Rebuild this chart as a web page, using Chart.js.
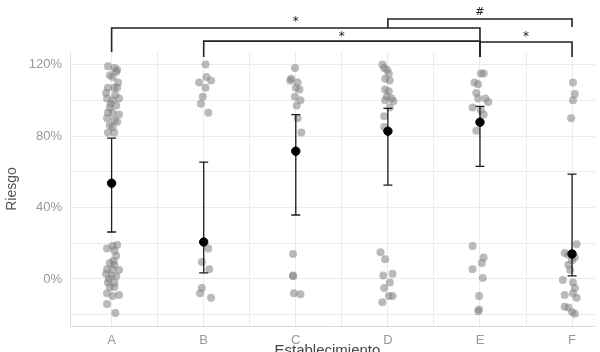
<!DOCTYPE html>
<html>
<head>
<meta charset="utf-8">
<script src="https://cdn.jsdelivr.net/npm/chart.js@4.4.1/dist/chart.umd.min.js"></script>
<style>
  html, body { margin: 0; padding: 0; background: #fff; }
  #wrap { width: 600px; height: 352px; position: relative; }
</style>
</head>
<body>
<div id="wrap"><canvas id="riesgoChart"></canvas></div>
<script>
// categorias (establecimientos)
var categorias = ['A', 'B', 'C', 'D', 'E', 'F'];

// observaciones individuales por establecimiento: [desplazamiento jitter, riesgo %]
var obsA = [[-0.04,119],[0.03,118],[0.06,117],[-0.02,114],[0.01,113],[0.05,116],[-0.04,107],[0.03,107],[0.06,107],
            [-0.05,101],[0.01,100],[0.08,101],[-0.02,96],[0.05,97],[-0.04,93],[0.01,93],[-0.05,90],[0.03,89],
            [0.06,88],[-0.02,86],[0.01,85],[-0.04,82],[0.03,82],[0.07,110],[-0.06,104],[0.04,103],[-0.01,98],[0.08,92],
            [-0.05,17],[0.01,18.5],[0.06,19],[0.03,16],[0.05,13],[-0.02,9],[0.03,8],[-0.05,5.5],[0.01,5.5],[0.08,5],
            [-0.06,3],[0,2],[0.05,1.5],[-0.04,-2],[0.03,-2],[-0.02,-4.5],[0.03,-4.5],[-0.05,-8],[0.01,-9.5],[0.08,-9],
            [-0.05,-14],[0.04,-19],[0.02,10],[-0.03,0]];
var obsB = [[0.02,120],[0.03,113],[0.08,111],[-0.05,110],[0.02,107],[-0.01,102],[-0.03,98],[0.05,93],
            [0.05,17],[-0.02,9.5],[0.06,5.5],[-0.02,-5],[-0.04,-8],[0.08,-10.5]];
var obsC = [[-0.01,118],[-0.05,112],[-0.06,111],[0.02,110],[0,107],[0.04,106],[-0.01,102],[0.05,100],[0.01,97],
            [0.02,90],[0.06,82],
            [-0.03,14],[-0.03,2],[-0.03,1.5],[-0.02,-8],[0.05,-8.5]];
var obsD = [[-0.06,120],[-0.04,118],[-0.01,117],[0.01,115],[-0.03,112],[0.02,111],[-0.03,106],[0.01,105],[-0.01,102],
            [0.04,101],[-0.03,100],[0.06,99.5],[0.02,96],[-0.04,91],[-0.04,85],
            [-0.08,15],[-0.03,11],[-0.05,2],[0.05,3],[0.02,-2],[-0.04,-5],[0.01,-9.5],[0.05,-9.5],[-0.06,-13]];
var obsE = [[0.01,115],[0.04,115],[-0.06,110],[-0.02,109],[-0.04,104],[-0.02,101],[0.06,101],[-0.08,96],[0.09,99],
            [0.01,94.5],[0.04,92],[-0.04,83],
            [-0.08,18.5],[0.04,12],[0.02,9],[-0.08,5.5],[0.03,0.5],[-0.01,-9.5],[-0.01,-17],[-0.02,-18]];
var obsF = [[0.01,110],[0.03,103.5],[0.01,100],[-0.01,90],
            [0.05,19.5],[-0.08,14.5],[-0.04,13.5],[0.03,12],[0,10.5],[-0.04,8],[-0.02,5],[-0.1,-0.5],[0.01,-2],
            [0.03,-5],[0.01,-8],[-0.08,-9],[0.05,-10.5],[-0.08,-15.5],[-0.04,-16],[0,-18.5],[0.03,-19.5]];
var observaciones = [obsA, obsB, obsC, obsD, obsE, obsF];

// media e intervalo por establecimiento
var medias   = [53.6, 20.7, 71.5, 82.7, 87.7, 14.0];
var limInf   = [26.3, 3.4, 35.8, 52.5, 63.0, 1.7];
var limSup   = [78.8, 65.4, 92.0, 95.5, 96.6, 58.7];

// ticks del eje y
var yTicks = [-20, 0, 20, 40, 60, 80, 100, 120];
var yLabels = [0, 40, 80, 120];

// comparaciones significativas (indices 1..6, alturas en %)
var comparaciones = [
  { desde: 1, hasta: 5, y: 140.4, caidaIzq: 127.0, caidaDer: 124.2, texto: '*', textoY: 145 },
  { desde: 2, hasta: 5, y: 133.1, caidaIzq: 124.2, caidaDer: 124.2, texto: '*', textoY: 136.5 },
  { desde: 4, hasta: 6, y: 145.5, caidaIzq: 140.4, caidaDer: 141.0, texto: '#', textoY: 149.5 },
  { desde: 5, hasta: 6, y: 132.6, caidaIzq: 124.2, caidaDer: 124.2, texto: '*', textoY: 136.5 }
];

var puntos = [];
observaciones.forEach(function(lista, i) {
  lista.forEach(function(o) { puntos.push({ x: i + 1 + o[0], y: o[1] }); });
});
var puntosMedia = medias.map(function(m, i) { return { x: i + 1, y: m }; });

// dibuja barras de error despues de los puntos grises
var barrasError = {
  id: 'barrasError',
  afterDatasetDraw: function(chart, args) {
    if (args.index !== 1) return;
    var ctx = chart.ctx, xs = chart.scales.x, ys = chart.scales.y;
    ctx.save();
    ctx.strokeStyle = '#1a1a1a';
    ctx.lineWidth = 1.3;
    for (var i = 0; i < medias.length; i++) {
      var px = xs.getPixelForValue(i + 1);
      var y1 = ys.getPixelForValue(limInf[i]);
      var y2 = ys.getPixelForValue(limSup[i]);
      ctx.beginPath();
      ctx.moveTo(px, y1); ctx.lineTo(px, y2);
      ctx.moveTo(px - 4.5, y1); ctx.lineTo(px + 4.5, y1);
      ctx.moveTo(px - 4.5, y2); ctx.lineTo(px + 4.5, y2);
      ctx.stroke();
    }
    ctx.restore();
  }
};

// corchetes de significancia y titulo del eje x
var anotaciones = {
  id: 'anotaciones',
  afterDraw: function(chart) {
    var ctx = chart.ctx, xs = chart.scales.x, ys = chart.scales.y;
    ctx.save();
    ctx.strokeStyle = '#222';
    ctx.lineWidth = 1.6;
    ctx.fillStyle = '#222';
    ctx.textAlign = 'center';
    ctx.textBaseline = 'middle';
    comparaciones.forEach(function(c) {
      var x1 = xs.getPixelForValue(c.desde), x2 = xs.getPixelForValue(c.hasta);
      var yy = ys.getPixelForValue(c.y);
      ctx.beginPath();
      ctx.moveTo(x1, ys.getPixelForValue(c.caidaIzq));
      ctx.lineTo(x1, yy);
      ctx.lineTo(x2, yy);
      ctx.lineTo(x2, ys.getPixelForValue(c.caidaDer));
      ctx.stroke();
      ctx.font = (c.texto === '#' ? '11px' : '12px') + ' "DejaVu Sans", sans-serif';
      ctx.fillText(c.texto, (x1 + x2) / 2, ys.getPixelForValue(c.textoY) + (c.texto === '*' ? 2 : 0));
    });
    ctx.fillStyle = '#444';
    ctx.font = '15px "Liberation Sans", Arial, sans-serif';
    ctx.textBaseline = 'top';
    ctx.fillText('Establecimiento', (chart.chartArea.left + chart.chartArea.right) / 2 - 5, 343);
    ctx.restore();
  }
};

var ctx = document.getElementById('riesgoChart').getContext('2d');
var riesgoChart = new Chart(ctx, {
  type: 'scatter',
  data: {
    datasets: [{
      label: 'Media',
      data: puntosMedia,
      backgroundColor: '#000',
      borderColor: '#000',
      pointRadius: 4.2,
      pointHoverRadius: 4.2
    }, {
      label: 'Observaciones',
      data: puntos,
      backgroundColor: 'rgba(130,130,130,0.55)',
      borderWidth: 0,
      pointRadius: 4,
      pointHoverRadius: 4
    }]
  },
  options: {
    responsive: true,
    maintainAspectRatio: false,
    animation: false,
    layout: { padding: { top: 52, right: 0, bottom: 0, left: 0 } },
    plugins: { legend: { display: false }, tooltip: { enabled: false } },
    scales: {
      x: {
        type: 'linear',
        min: 0.548,
        max: 6.247,
        afterBuildTicks: function(s) {
          var t = [];
          for (var v = 1; v <= 6; v += 0.5) t.push({ value: v });
          s.ticks = t;
        },
        afterFit: function(s) { s.height = 26; },
        grid: { color: '#ebebeb', lineWidth: 1, drawTicks: false },
        border: { display: true, color: '#dcdcdc', width: 1 },
        ticks: {
          padding: 7,
          color: '#999',
          font: { family: 'Liberation Sans, Arial, sans-serif', size: 13 },
          callback: function(v) { return Number.isInteger(v) ? categorias[v - 1] : ''; }
        }
      },
      y: {
        min: -26.3,
        max: 127.0,
        afterBuildTicks: function(s) {
          s.ticks = yTicks.map(function(v) { return { value: v }; });
        },
        afterFit: function(s) { s.width = 70; },
        grid: { color: '#ebebeb', lineWidth: 1, drawTicks: false },
        border: { display: true, color: '#dcdcdc', width: 1 },
        title: {
          display: true,
          text: 'Riesgo',
          color: '#555',
          font: { family: 'Liberation Sans, Arial, sans-serif', size: 14 },
          padding: { top: 4, bottom: 0 }
        },
        ticks: {
          padding: 8,
          color: '#999',
          font: { family: 'Liberation Sans, Arial, sans-serif', size: 13 },
          callback: function(v) { return yLabels.indexOf(v) >= 0 ? v + '%' : ''; }
        }
      }
    }
  },
  plugins: [barrasError, anotaciones]
});
</script>
</body>
</html>
